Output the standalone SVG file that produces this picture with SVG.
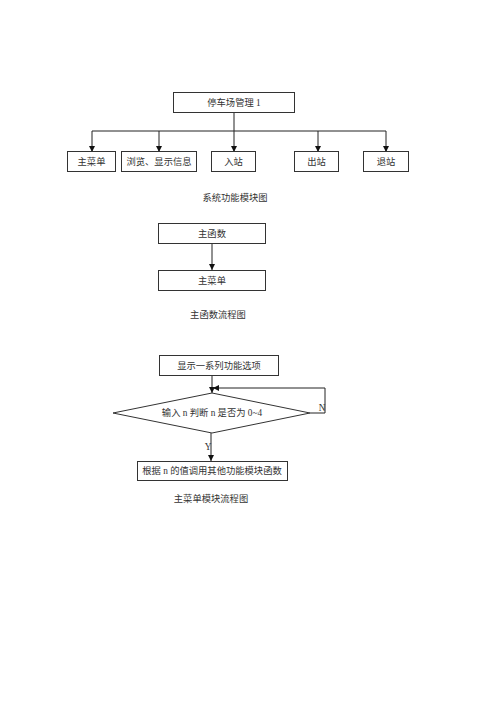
<svg xmlns="http://www.w3.org/2000/svg" width="500" height="707" viewBox="0 0 500 707">
<defs>
<style>
.box{fill:#fff;stroke:#333;stroke-width:1}
.ln{fill:none;stroke:#222;stroke-width:1}
.t{font-family:"Liberation Serif","Noto Sans CJK SC",serif;font-size:9.3px;fill:#333;text-anchor:middle;dominant-baseline:central}
</style>
<marker id="ah" viewBox="0 0 8 8" refX="8" refY="4" markerWidth="6" markerHeight="6" orient="auto" markerUnits="userSpaceOnUse">
<path d="M0,0 L8,4 L0,8 z" fill="#111"/>
</marker>
</defs>
<rect width="500" height="707" fill="#fff"/>
<g id="connectors">
<path class="ln" d="M234,112 V131 M92,131 H386"/>
<path class="ln" d="M92,131 V152" marker-end="url(#ah)"/>
<path class="ln" d="M159,131 V152" marker-end="url(#ah)"/>
<path class="ln" d="M234,131 V152" marker-end="url(#ah)"/>
<path class="ln" d="M318,131 V152" marker-end="url(#ah)"/>
<path class="ln" d="M386,131 V152" marker-end="url(#ah)"/>
<path class="ln" d="M212,243 V270" marker-end="url(#ah)"/>
<path class="ln" d="M212,375 V393" marker-end="url(#ah)"/>
<path class="ln" d="M310,413 H325 V388 H213" marker-end="url(#ah)"/>
<path class="ln" d="M211,433 V461" marker-end="url(#ah)"/>
<text class="t" x="322" y="408">N</text>
<text class="t" x="208" y="447">Y</text>
</g>
<g id="n-root"><rect class="box" x="173.5" y="92.5" width="121" height="20"/><text class="t" x="234" y="102.5">停车场管理 1</text></g>
<g id="n-menu"><rect class="box" x="67.5" y="151.5" width="48" height="20"/><text class="t" x="91.5" y="161.5">主菜单</text></g>
<g id="n-browse"><rect class="box" x="121.5" y="151.5" width="75" height="20"/><text class="t" x="159" y="161.5">浏览、显示信息</text></g>
<g id="n-in"><rect class="box" x="211.5" y="151.5" width="44" height="20"/><text class="t" x="233.5" y="161.5">入站</text></g>
<g id="n-out"><rect class="box" x="294.5" y="151.5" width="44" height="20"/><text class="t" x="316.5" y="161.5">出站</text></g>
<g id="n-quit"><rect class="box" x="363.5" y="151.5" width="45" height="20"/><text class="t" x="386" y="161.5">退站</text></g>
<text class="t" x="235" y="198">系统功能模块图</text>
<g id="n-main"><rect class="box" x="158.5" y="223.5" width="107" height="20"/><text class="t" x="212" y="233.5">主函数</text></g>
<g id="n-main-menu"><rect class="box" x="158.5" y="270.5" width="107" height="20"/><text class="t" x="212" y="280.5">主菜单</text></g>
<text class="t" x="218" y="315">主函数流程图</text>
<g id="n-show"><rect class="box" x="159.5" y="355.5" width="119" height="20"/><text class="t" x="219" y="365.5">显示一系列功能选项</text></g>
<g id="n-judge"><polygon class="box" points="113,413 212,393 310,413 212,433"/><text class="t" x="212" y="413">输入 n 判断 n 是否为 0~4</text></g>
<g id="n-call"><rect class="box" x="137.5" y="461.5" width="150" height="19"/><text class="t" x="212" y="471">根据 n 的值调用其他功能模块函数</text></g>
<text class="t" x="211" y="499">主菜单模块流程图</text>
</svg>
